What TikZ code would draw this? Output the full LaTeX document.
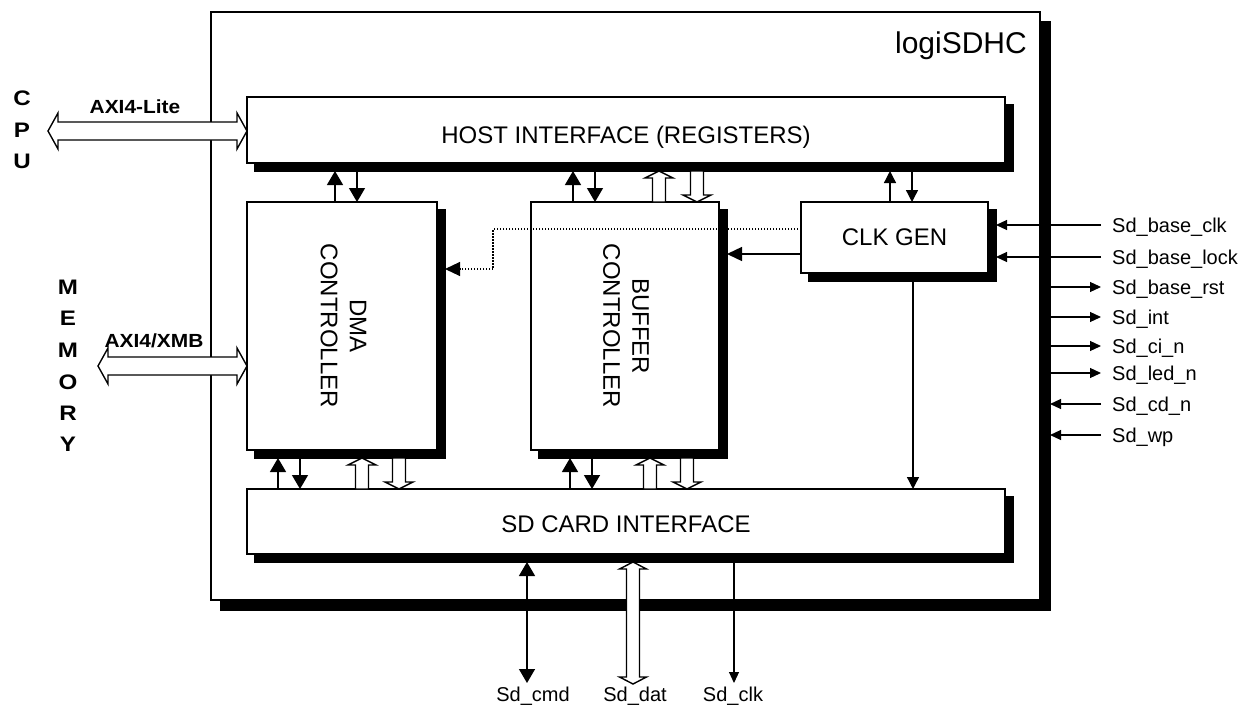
\documentclass[tikz,border=0pt]{standalone}
\usepackage{fontspec}
\setmainfont{Liberation Sans}
\usepackage{graphicx}
\usetikzlibrary{arrows.meta,calc}
\newcommand\blk[6]{%
  \node[shbox, minimum width=#4pt, minimum height=#5pt] (#1-s) at ({#2+#6},{#3+#6}) {};
  \node[blkbox, minimum width=#4pt, minimum height=#5pt] (#1) at (#2,#3) {};}
\newcommand\hollowup[2]{\draw[hollow] let \p1=(#1), \p2=(#2) in
  ({\x1-6.5pt},\y1) -- ({\x1-6.5pt},{\y2-7pt}) -- ({\x1-14pt},{\y2-7pt}) -- (\x1,\y2)
  -- ({\x1+14pt},{\y2-7pt}) -- ({\x1+6.5pt},{\y2-7pt}) -- ({\x1+6.5pt},\y1) -- cycle;}
\newcommand\hollowdown[2]{\draw[hollow] let \p1=(#1), \p2=(#2) in
  ({\x1-6.5pt},\y1) -- ({\x1-6.5pt},{\y2+7pt}) -- ({\x1-14pt},{\y2+7pt}) -- (\x1,\y2)
  -- ({\x1+14pt},{\y2+7pt}) -- ({\x1+6.5pt},{\y2+7pt}) -- ({\x1+6.5pt},\y1) -- cycle;}
\newcommand\hollowvv[2]{\draw[hollow] let \p1=(#1), \p2=(#2) in
  (\x1,\y1) -- ({\x1+13.5pt},{\y1-7pt}) -- ({\x1+6.5pt},{\y1-7pt}) -- ({\x1+6.5pt},{\y2+7pt})
  -- ({\x1+13.5pt},{\y2+7pt}) -- (\x1,\y2) -- ({\x1-13.5pt},{\y2+7pt}) -- ({\x1-6.5pt},{\y2+7pt})
  -- ({\x1-6.5pt},{\y1-7pt}) -- ({\x1-13.5pt},{\y1-7pt}) -- cycle;}
\newcommand\hollowhh[2]{\draw[hollow] let \p1=(#1), \p2=(#2) in
  (\x1,\y1) -- ({\x1+10pt},{\y1+18pt}) -- ({\x1+10pt},{\y1+9pt}) -- ({\x2-10pt},{\y1+9pt})
  -- ({\x2-10pt},{\y1+18pt}) -- (\x2,\y1) -- ({\x2-10pt},{\y1-18pt}) -- ({\x2-10pt},{\y1-9pt})
  -- ({\x1+10pt},{\y1-9pt}) -- ({\x1+10pt},{\y1-18pt}) -- cycle;}
\begin{document}
\begin{tikzpicture}[x=1pt,y=-1pt,
  blkbox/.style={draw, line width=1.8pt, fill=white, anchor=north west, inner sep=0pt, outer sep=0pt},
  shbox/.style={draw, line width=1.8pt, fill=black, anchor=north west, inner sep=0pt, outer sep=0pt},
  big/.style={-{Triangle[length=14pt,width=16pt]}, line width=1.4pt},
  bigboth/.style={{Triangle[length=14pt,width=16pt]}-{Triangle[length=14pt,width=16pt]}, line width=1.4pt},
  harr/.style={-{Triangle[length=15pt,width=14pt]}, line width=1.4pt},
  med/.style={-{Triangle[length=12pt,width=12pt]}, line width=1.3pt},
  small/.style={-{Triangle[length=11pt,width=10pt]}, line width=1.2pt},
  dotline/.style={-{Triangle[length=15pt,width=14pt]}, line width=1.1pt, dash pattern=on 1.5pt off 1.5pt},
  hollow/.style={draw, fill=white, line width=1.4pt, line join=miter},
  txt/.style={font=\fontsize{24}{29}\selectfont, inner sep=0pt},
  sig/.style={font=\fontsize{20}{24}\selectfont, inner sep=0pt, anchor=base west},
  bl/.style={font=\fontsize{19}{23}\selectfont\bfseries, inner sep=0pt, anchor=base},
  bll/.style={font=\fontsize{21}{25}\selectfont\bfseries, inner sep=0pt, anchor=base},
]
\useasboundingbox (0,0) rectangle (1247,704);
% blocks
\blk{outer}{211}{12}{829}{588}{10}
\blk{host}{247}{97}{758}{66}{8}
\blk{dma}{247}{202}{190}{248}{8}
\blk{buf}{531}{202}{188}{248}{8}
\blk{clk}{801}{202}{187}{71}{8}
\blk{sd}{247}{489}{758}{65}{8}
% texts
\node[font=\fontsize{30}{36}\selectfont, inner sep=0pt, anchor=base east] (title) at (1027,53) {logiSDHC};
\node[txt, anchor=base] (host-t) at (626,143) {HOST INTERFACE (REGISTERS)};
\node[txt, anchor=base] (sd-t) at (626,532) {SD CARD INTERFACE};
\node[txt, anchor=base] (clk-t) at (894.5,245) {CLK GEN};
\node[txt, rotate=-90, align=center] (dma-t) at ([xshift=1.5pt]dma.center) {DMA\\CONTROLLER};
\node[txt, rotate=-90, align=center] (buf-t) at ([xshift=1pt]buf.center) {BUFFER\\CONTROLLER};
% host <-> dma / buffer / clk
\draw[big] (335,0 |- dma.north) -- (335,0 |- host-s.south);
\draw[big] (357,0 |- host-s.south) -- (357,0 |- dma.north);
\draw[big] (573,0 |- buf.north) -- (573,0 |- host-s.south);
\draw[big] (595,0 |- host-s.south) -- (595,0 |- buf.north);
\hollowup{659,0 |- buf.north}{659,0 |- host-s.south}
\hollowdown{697,0 |- host-s.south}{697,0 |- buf.north}
\draw[med] (890,0 |- clk.north) -- (890,0 |- host-s.south);
\draw[med] (912,0 |- host-s.south) -- (912,0 |- clk.north);
% dma / buffer <-> sd
\draw[big] (278,0 |- sd.north) -- (278,0 |- dma-s.south);
\draw[big] (300,0 |- dma-s.south) -- (300,0 |- sd.north);
\hollowup{362,0 |- sd.north}{362,0 |- dma-s.south}
\hollowdown{399,0 |- dma-s.south}{399,0 |- sd.north}
\draw[big] (570,0 |- sd.north) -- (570,0 |- buf-s.south);
\draw[big] (592,0 |- buf-s.south) -- (592,0 |- sd.north);
\hollowup{650,0 |- sd.north}{650,0 |- buf-s.south}
\hollowdown{687,0 |- buf-s.south}{687,0 |- sd.north}
\draw[med] (913,0 |- clk-s.south) -- (913,0 |- sd.north);
% clk gen -> buffer / dma
\draw[harr] (clk.west |- 0,254) -- (buf-s.east |- 0,254);
\draw[dotline] (clk.west |- 0,229) -- (493,229) -- (493,269) -- (dma-s.east |- 0,269);
% right side signals
\node[sig] (s1) at (1112,232.5) {Sd\_base\_clk};
\node[sig] (s2) at (1112,264.5) {Sd\_base\_lock};
\node[sig] (s3) at (1112,294.5) {Sd\_base\_rst};
\node[sig] (s4) at (1112,324.5) {Sd\_int};
\node[sig] (s5) at (1112,353.5) {Sd\_ci\_n};
\node[sig] (s6) at (1112,380.5) {Sd\_led\_n};
\node[sig] (s7) at (1112,411.5) {Sd\_cd\_n};
\node[sig] (s8) at (1112,442.5) {Sd\_wp};
\coordinate (e1) at (1101,225);
\coordinate (e2) at (1101,257);
\coordinate (e3) at (1101,287);
\coordinate (e4) at (1101,317);
\coordinate (e5) at (1101,346);
\coordinate (e6) at (1101,373);
\coordinate (e7) at (1101,404);
\coordinate (e8) at (1101,435);
\draw[small] (e1) -- (clk-s.east |- e1);
\draw[small] (e2) -- (clk-s.east |- e2);
\draw[small] (outer-s.east |- e3) -- (e3);
\draw[small] (outer-s.east |- e4) -- (e4);
\draw[small] (outer-s.east |- e5) -- (e5);
\draw[small] (outer-s.east |- e6) -- (e6);
\draw[small] (e7) -- (outer-s.east |- e7);
\draw[small] (e8) -- (outer-s.east |- e8);
% left side
\node[bll] (c1) at (22,105.5) {\scalebox{1.15}[1]{C}};
\node[bll] (c2) at (22,137.5) {\scalebox{1.15}[1]{P}};
\node[bll] (c3) at (22,168) {\scalebox{1.15}[1]{U}};
\node[bll] (m1) at (68,294) {\scalebox{1.15}[1]{M}};
\node[bll] (m2) at (68,325.5) {\scalebox{1.15}[1]{E}};
\node[bll] (m3) at (68,357.5) {\scalebox{1.15}[1]{M}};
\node[bll] (m4) at (68,389.5) {\scalebox{1.15}[1]{O}};
\node[bll] (m5) at (68,420.5) {\scalebox{1.15}[1]{R}};
\node[bll] (m6) at (68,451.5) {\scalebox{1.15}[1]{Y}};
\node[bl] (axil) at (135,113) {\scalebox{1.1}[1]{AXI4-Lite}};
\node[bl] (axim) at (154,347) {\scalebox{1.1}[1]{AXI4/XMB}};
\coordinate (cpu-e) at (48,131);
\coordinate (mem-e) at (98,366);
\hollowhh{cpu-e}{host.west |- cpu-e}
\hollowhh{mem-e}{dma.west |- mem-e}
% bottom signals
\node[sig, anchor=base] (b1) at (533,701) {Sd\_cmd};
\node[sig, anchor=base] (b2) at (635,701) {Sd\_dat};
\node[sig, anchor=base] (b3) at (733,701) {Sd\_clk};
\coordinate (f1) at (527,683);
\coordinate (f2) at (633,684);
\coordinate (f3) at (734,683);
\draw[bigboth] (sd-s.south -| f1) -- (f1);
\hollowvv{sd-s.south -| f2}{f2}
\draw[small, line width=1.1pt] (sd-s.south -| f3) -- (f3);
\end{tikzpicture}
\end{document}
